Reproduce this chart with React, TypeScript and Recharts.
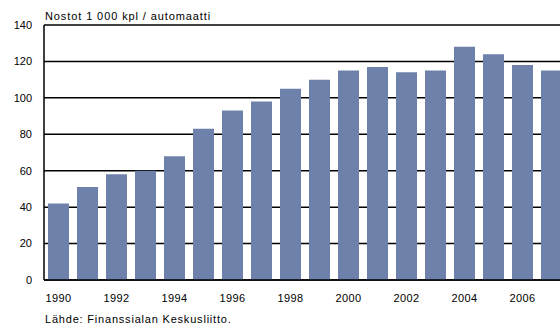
import { BarChart, Bar, XAxis, YAxis, CartesianGrid } from "recharts";

const years = [
  "1990", "1991", "1992", "1993", "1994", "1995", "1996", "1997", "1998",
  "1999", "2000", "2001", "2002", "2003", "2004", "2005", "2006", "2007",
];
const withdrawals = [42, 51, 58, 60, 68, 83, 93, 98, 105, 110, 115, 117, 114, 115, 128, 124, 118, 115];
const yTicks = [0, 20, 40, 60, 80, 100, 120, 140];

const title = "Nostot 1 000 kpl / automaatti";
const source = "Lähde: Finanssialan Keskusliitto.";

const data = years.map((year, i) => ({ year, value: withdrawals[i] }));

const FONT = "'Liberation Sans', Arial, sans-serif";

export default function App() {
  return (
    <div
      style={{
        position: "absolute",
        left: 0,
        top: 0,
        width: 560,
        height: 331,
        overflow: "hidden",
        background: "#fff",
        fontFamily: FONT,
      }}
    >
      <div
        style={{
          position: "absolute",
          left: 45,
          top: 10,
          fontSize: 11,
          letterSpacing: 0.9,
          color: "#000",
          whiteSpace: "nowrap",
        }}
      >
        {title}
      </div>
      <BarChart
        width={570}
        height={331}
        data={data}
        margin={{ top: 25, right: 4, bottom: 21, left: 0 }}
        barSize={21}
      >
        <CartesianGrid vertical={false} stroke="#000" strokeWidth={1.5} strokeOpacity={1} />
        <XAxis
          dataKey="year"
          interval={1}
          height={30}
          axisLine={{ stroke: "#000", strokeWidth: 1.5 }}
          tickLine={false}
          tickSize={0}
          tickMargin={14}
          tick={{ fill: "#000", fontSize: 11, fontFamily: FONT, letterSpacing: 0.4 }}
        />
        <YAxis
          width={44}
          domain={[0, 140]}
          ticks={yTicks}
          interval={0}
          axisLine={{ stroke: "#000", strokeWidth: 1.5 }}
          tickLine={false}
          tickSize={0}
          tickMargin={12}
          tick={{ fill: "#000", fontSize: 11, fontFamily: FONT }}
        />
        <Bar dataKey="value" fill="#6D81AA" isAnimationActive={false} />
      </BarChart>
      <div
        style={{
          position: "absolute",
          left: 45,
          top: 313,
          fontSize: 11,
          letterSpacing: 0.8,
          color: "#000",
          whiteSpace: "nowrap",
        }}
      >
        {source}
      </div>
    </div>
  );
}
